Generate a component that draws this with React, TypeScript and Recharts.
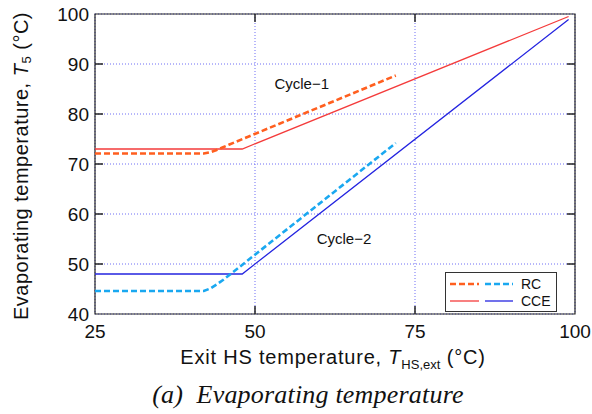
import {
  CartesianGrid,
  Line,
  LineChart,
  ReferenceArea,
  ReferenceDot,
  ReferenceLine,
  XAxis,
  YAxis,
} from "recharts";

// x = exit HS temperature (degC), y = evaporating temperature T5 (degC)
const RC1_X = [25, 42, 43, 44, 45, 46, 72];
const RC1_Y = [72.1, 72.1, 72.35, 72.8, 73.35, 73.9, 87.7];
const CCE1_X = [25, 48, 99];
const CCE1_Y = [73, 73, 99.5];
const RC2_X = [25, 42, 43, 44, 45, 46, 72];
const RC2_Y = [44.6, 44.6, 45.1, 45.9, 46.8, 47.8, 74.2];
const CCE2_X = [25, 48, 99];
const CCE2_Y = [48, 48, 98.9];

const X_TICKS = [25, 50, 75, 100];
const Y_TICKS = [40, 50, 60, 70, 80, 90, 100];

const toPoints = (xs: number[], ys: number[]) => xs.map((x, i) => ({ x, y: ys[i] }));

const rc1 = toPoints(RC1_X, RC1_Y);
const cce1 = toPoints(CCE1_X, CCE1_Y);
const rc2 = toPoints(RC2_X, RC2_Y);
const cce2 = toPoints(CCE2_X, CCE2_Y);

const FONT = "'Liberation Sans', Arial, sans-serif";
const ORANGE = "#ff5f1f";
const CYAN = "#1aa8f0";
const RED = "#f43b3b";
const BLUE = "#2424e0";
const GRID = "#6f6ff5";

// inward tick marks, in data units (about 8px)
const TICK_DX = 1.25;
const TICK_DY = 1.6;

function YTitle() {
  return (
    <text x={21} y={166} transform="rotate(-90, 21, 166)" textAnchor="middle" dominantBaseline="central" fontFamily={FONT} fontSize={20} letterSpacing={0.5} fill="#111">
      Evaporating temperature,{" "}
      <tspan fontStyle="italic">T</tspan>
      <tspan fontSize={13} dy={5}>5</tspan>
      <tspan dy={-5}> (°C)</tspan>
    </text>
  );
}

function XTitle() {
  return (
    <text x={333} y={364} textAnchor="middle" fontFamily={FONT} fontSize={20} letterSpacing={0.8} fill="#111">
      Exit HS temperature,{" "}
      <tspan fontStyle="italic">T</tspan>
      <tspan fontSize={13} dy={5} letterSpacing={0}>HS,ext</tspan>
      <tspan dy={-5}> (°C)</tspan>
    </text>
  );
}

export default function App() {
  return (
    <div style={{ position: "absolute", left: 0, top: 0, width: 592, height: 414, background: "#fff" }}>
      <LineChart width={592} height={414} margin={{ top: 14, right: 17, bottom: 0, left: 0 }}>
        <CartesianGrid stroke={GRID} strokeDasharray="1 2" />
        <XAxis
          type="number"
          dataKey="x"
          domain={[25, 100]}
          ticks={X_TICKS}
          height={100}
          axisLine={false}
          tickLine={false}
          tickSize={0}
          tickMargin={11}
          tick={{ fill: "#111", fontSize: 19, fontFamily: FONT }}
          label={<XTitle />}
        />
        <YAxis
          type="number"
          domain={[40, 100]}
          ticks={Y_TICKS}
          width={95}
          axisLine={false}
          tickLine={false}
          tickSize={0}
          tickMargin={6}
          tick={{ fill: "#111", fontSize: 19, fontFamily: FONT }}
          label={<YTitle />}
        />
        <ReferenceArea x1={25} x2={100} y1={40} y2={100} fill="none" stroke="#222" strokeWidth={1.2} />
        {Y_TICKS.slice(1, -1).map((v) => (
          <ReferenceLine key={`l${v}`} segment={[{ x: 25, y: v }, { x: 25 + TICK_DX, y: v }]} stroke="#222" strokeWidth={1.5} />
        ))}
        {Y_TICKS.slice(1, -1).map((v) => (
          <ReferenceLine key={`r${v}`} segment={[{ x: 100 - TICK_DX, y: v }, { x: 100, y: v }]} stroke="#222" strokeWidth={1.5} />
        ))}
        {X_TICKS.slice(1, -1).map((v) => (
          <ReferenceLine key={`b${v}`} segment={[{ x: v, y: 40 }, { x: v, y: 40 + TICK_DY }]} stroke="#222" strokeWidth={1.5} />
        ))}
        {X_TICKS.slice(1, -1).map((v) => (
          <ReferenceLine key={`t${v}`} segment={[{ x: v, y: 100 - TICK_DY }, { x: v, y: 100 }]} stroke="#222" strokeWidth={1.5} />
        ))}
        <Line data={cce1} dataKey="y" type="linear" stroke={RED} strokeWidth={1.3} dot={false} isAnimationActive={false} />
        <Line data={cce2} dataKey="y" type="linear" stroke={BLUE} strokeWidth={1.3} dot={false} isAnimationActive={false} />
        <Line data={rc1} dataKey="y" type="linear" stroke={ORANGE} strokeWidth={2.6} strokeDasharray="6 3" dot={false} isAnimationActive={false} />
        <Line data={rc2} dataKey="y" type="linear" stroke={CYAN} strokeWidth={2.6} strokeDasharray="6 3" dot={false} isAnimationActive={false} />
        <ReferenceDot x={57.3} y={86} r={0} label={{ value: "Cycle\u22121", position: "center", fontSize: 15, fontFamily: FONT, fill: "#111" }} />
        <ReferenceDot x={63.9} y={55} r={0} label={{ value: "Cycle\u22122", position: "center", fontSize: 15, fontFamily: FONT, fill: "#111" }} />
      </LineChart>

      <svg width={592} height={414} style={{ position: "absolute", left: 0, top: 0, pointerEvents: "none" }}>
        <rect x={445.5} y={272.5} width={111} height={39} fill="#fff" stroke="#333" strokeWidth={1} />
        <line x1={450} x2={479} y1={284} y2={284} stroke={ORANGE} strokeWidth={2.6} strokeDasharray="6 3" />
        <line x1={485} x2={513} y1={284} y2={284} stroke={CYAN} strokeWidth={2.6} strokeDasharray="6 3" />
        <line x1={450} x2={479} y1={301} y2={301} stroke={RED} strokeWidth={1.3} />
        <line x1={485} x2={513} y1={301} y2={301} stroke={BLUE} strokeWidth={1.3} />
        <text x={521} y={284} dominantBaseline="central" fontFamily={FONT} fontSize={14} fill="#111">RC</text>
        <text x={521} y={301} dominantBaseline="central" fontFamily={FONT} fontSize={14} fill="#111">CCE</text>
        <text x={308} y={403} textAnchor="middle" fontFamily="'Liberation Serif', 'Times New Roman', serif" fontStyle="italic" fontSize={26} letterSpacing={0.2} fill="#111">
          (a){"\u00a0\u00a0"}Evaporating temperature
        </text>
      </svg>
    </div>
  );
}
